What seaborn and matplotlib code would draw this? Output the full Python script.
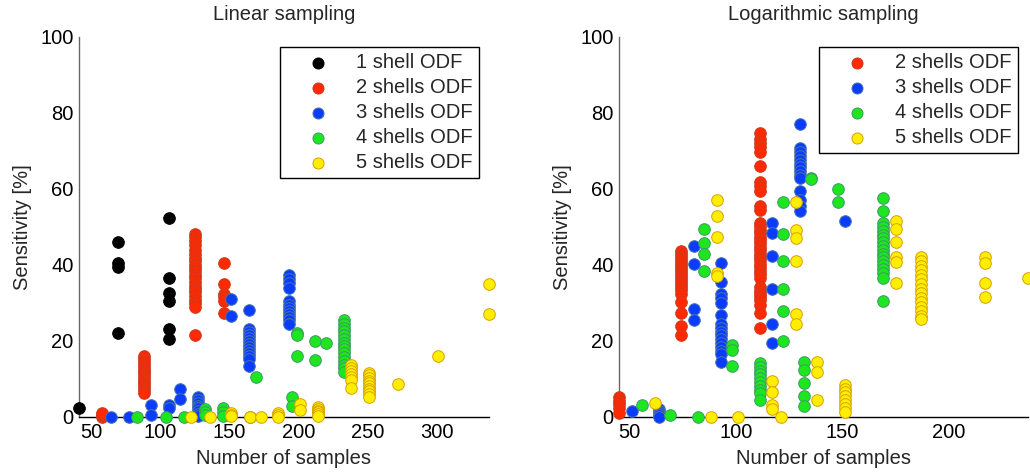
import numpy as np
import pandas as pd
import matplotlib
matplotlib.use("Agg")
import matplotlib.pyplot as plt
import seaborn as sns

# ---------------- data (x = number of samples -> list of sensitivities [%]) ----------------
lin_1shell = {41: [2.5], 69: [46, 40.6, 39.5, 22], 106: [52.5, 36.5, 32.6, 30.6, 23.2, 20.4]}
lin_2shells = {58: [0, 0.4, 0.8, 1.1],
               88: [16, 15.3, 14.6, 13.8, 13.0, 12.2, 11.5, 10.8, 10.0, 9.3, 8.6, 7.8, 7.0, 6.3],
               125: [48.2, 47.3, 46.2, 45.2, 44.0, 42.8, 41.8, 41.0, 40.1, 39.2, 38.3, 37.4, 36.5,
                     35.5, 34.6, 33.7, 32.8, 31.8, 30.9, 30.0, 29.0, 21.6],
               146: [40.6, 35, 32.5, 31.6, 30.6, 27.5]}
lin_3shells = {64: [0], 77: [0], 93: [3.1, 0.4], 106: [3.2, 2.4], 114: [7.5, 4.8],
               127: [5.3, 4.5, 3.8, 3.0, 2.3, 1.6, 0.9, 0.3],
               151: [31.0, 26.6],
               164: [28.1, 23.2, 22.4, 21.6, 20.8, 20.0, 19.2, 18.4, 17.6, 16.8, 16.0, 15.2, 13.5],
               193: [37.5, 36.4, 35.2, 34.0, 30.4, 29.6, 28.7, 27.8, 27.0, 26.2, 25.4, 24.6]}
lin_4shells = {83: [0], 104: [0], 117: [0], 132: [2.2, 1.2, 0.4], 145: [2.3, 1.2, 0.3],
               165: [0], 169: [10.5], 195: [5.2, 3.0], 199: [22.0, 21.6, 16.0],
               212: [20.1, 15.0], 220: [19.6],
               233: [25.5, 24.5, 23.5, 22.6, 21.6, 20.6, 19.6, 18.7, 17.8, 16.8, 15.8, 14.8,
                     13.8, 12.8, 11.8]}
lin_5shells = {122: [0], 136: [0], 151: [1.1, 0.6, 0.2], 165: [0], 173: [0], 185: [1.0, 0.5, 0.1],
               201: [3.4, 1.9], 214: [2.7, 2.2, 1.7, 1.2, 0.7, 0.2],
               238: [13.7, 12.9, 12.1, 11.3, 10.5, 9.7, 7.6],
               251: [11.7, 11.0, 10.3, 9.6, 8.9, 8.2, 7.5, 6.8, 6.0, 5.3],
               272: [8.6], 301: [16.0], 338: [35.0, 27.1]}

log_2shells = {45: [5.3, 4.3, 3.3, 2.3, 1.1],
               74: [43.8, 43.0, 42.2, 41.4, 40.6, 39.8, 39.0, 38.2, 37.4, 36.6, 35.8, 35.0, 34.2,
                    33.3, 32.5, 30.3, 27.5, 23.9, 21.6],
               111: [74.7, 73.2, 72.0, 71.0, 69.8, 66.1, 61.9, 60.8, 59.6, 55.5, 54.5, 51.1, 50.2,
                     49.3, 48.4, 47.5, 46.6, 45.7, 44.8, 43.9, 43.0, 42.1, 41.2, 40.3, 39.4, 38.5,
                     37.6, 36.5, 34.3, 33.2, 32.5, 31.5, 30.8, 29.5, 27.5, 23.5]}
log_3shells = {51: [1.7], 64: [2.0, 1.5, 1.0, 0.5, 0], 80: [45.0, 40.2, 28.4, 25.5],
               93: [40.6, 35.6, 32.5, 31.2, 30.0, 26.8, 24.5, 23.5, 22.5, 21.5, 20.5, 19.5, 18.5,
                    17.5, 16.5, 14.6],
               117: [51.1, 48.5, 42.5, 33.6, 24.5, 19.6],
               130: [77.0, 70.7, 69.7, 68.7, 67.7, 66.7, 65.7, 64.7, 63.7, 62.8, 59.5, 57.0, 55.5, 54.1],
               151: [51.6]}
log_4shells = {56: [3.1], 69: [0.5], 82: [0], 85: [49.5, 45.7, 42.9, 38.5], 98: [18.9, 17.6, 13.5],
               111: [14.2, 13.2, 12.2, 11.2, 10.2, 9.2, 8.2, 7.2, 6.2, 4.4],
               122: [56.7, 48.1, 41.1, 33.6, 28.0, 20.1],
               132: [14.6, 12.3, 8.9, 5.5, 2.9], 135: [63.0, 62.5], 148: [59.9, 56.5],
               169: [57.5, 54.2, 51.0, 50.0, 49.0, 48.0, 47.0, 46.0, 45.0, 44.0, 43.0, 42.0, 41.0,
                     40.0, 39.0, 38.0, 36.5, 30.5]}
log_5shells = {62: [3.6], 88: [0], 91: [57.1, 53.0, 47.5, 38.0, 37.1], 101: [0],
               117: [9.5, 6.5, 3.2, 2.0], 121: [0], 128: [56.7, 49.2, 47.2, 41.1, 27.1, 24.5],
               138: [14.6, 11.8, 4.5], 151: [8.4, 7.5, 6.5, 5.5, 4.5, 3.5, 2.5, 1.4],
               175: [51.7, 49.6, 46.1, 42.2, 40.9, 35.2],
               187: [42.2, 41.0, 39.8, 38.6, 37.4, 36.2, 35.0, 33.8, 32.6, 31.4, 30.2, 29.0, 27.8,
                     26.6, 25.7],
               217: [42.2, 40.4, 35.2, 31.7], 237: [36.5]}

labels = ["1 shell ODF", "2 shells ODF", "3 shells ODF", "4 shells ODF", "5 shells ODF"]
face_colors = ["#000000", "#ff2a00", "#0a3cff", "#1ee61e", "#ffee00"]
edge_colors = ["#000000", "#cc3a22", "#4a74a8", "#3a9a66", "#d9a000"]

linear_series = [lin_1shell, lin_2shells, lin_3shells, lin_4shells, lin_5shells]
log_series = [None, log_2shells, log_3shells, log_4shells, log_5shells]

x_ticks_lin = [50, 100, 150, 200, 250, 300]
x_ticks_log = [50, 100, 150, 200]
y_ticks = [0, 20, 40, 60, 80, 100]


def to_frame(d):
    xs, ys = [], []
    for k, vals in d.items():
        xs += [k] * len(vals)
        ys += list(vals)
    return pd.DataFrame({"samples": xs, "sens": ys})


sns.set_theme(style="white")
plt.rcParams["font.family"] = ["Liberation Sans", "DejaVu Sans"]
FS = 14.5
plt.rcParams["font.size"] = FS

fig = plt.figure(figsize=(10.30, 4.72), dpi=100)
ax1 = fig.add_axes([79 / 1030, 55 / 472, 410 / 1030, 380 / 472])
ax2 = fig.add_axes([619 / 1030, 55 / 472, 409 / 1030, 380 / 472])


def draw(ax, series, title, xlim, xticks):
    for i, d in enumerate(series):
        if d is None:
            continue
        df = to_frame(d)
        sns.scatterplot(data=df, x="samples", y="sens", ax=ax, color=face_colors[i],
                        edgecolor=edge_colors[i], linewidth=0.7, s=70, marker="o",
                        label=labels[i], clip_on=False, zorder=3 + i)
    ax.set_xlim(*xlim)
    ax.set_ylim(0, 100)
    ax.set_xticks(xticks)
    ax.set_yticks(y_ticks)
    ax.set_title(title, fontsize=FS, pad=12)
    ax.set_xlabel("Number of samples", fontsize=FS, labelpad=5)
    ax.set_ylabel("Sensitivity [%]", fontsize=FS, labelpad=6)
    for s in ["top", "right"]:
        ax.spines[s].set_visible(False)
    ax.spines["left"].set_color("#666666")
    ax.spines["bottom"].set_color("#000000")
    ax.spines["left"].set_linewidth(1.0)
    ax.spines["bottom"].set_linewidth(1.0)
    ax.tick_params(axis="both", direction="in", length=4, width=0.8, labelsize=FS,
                   colors="black", pad=4)
    ax.tick_params(axis="y", color="#666666")
    leg = ax.legend(loc="upper right", frameon=True, fancybox=False, framealpha=1,
                    edgecolor="black", fontsize=FS, handlelength=3.2, handletextpad=0.3,
                    borderpad=0.3, labelspacing=0.3, borderaxespad=0.5, markerscale=0.95)
    leg.get_frame().set_linewidth(1.0)


draw(ax1, linear_series, "Linear sampling", (41, 338), x_ticks_lin)
draw(ax2, log_series, "Logarithmic sampling", (45, 237), x_ticks_log)

fig.savefig("out.png", dpi=100)
